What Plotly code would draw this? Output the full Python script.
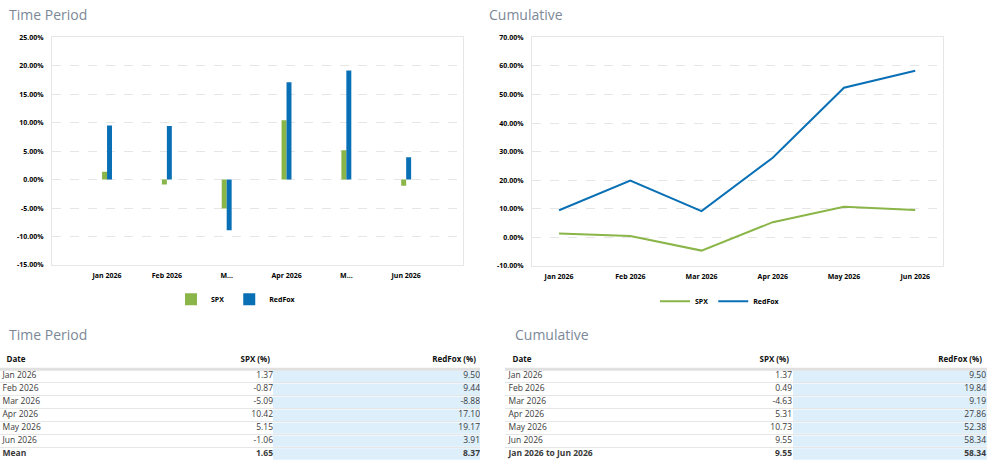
import plotly.graph_objects as go

W, H = 992, 472

# ---------------- data ----------------
months = ["Jan 2026", "Feb 2026", "Mar 2026", "Apr 2026", "May 2026", "Jun 2026"]
bar_tick_labels = ["Jan 2026", "Feb 2026", "M...", "Apr 2026", "M...", "Jun 2026"]
series_names = ["SPX", "RedFox"]
table_headers = ["Date", "SPX (%)", "RedFox (%)"]

spx_period = [1.37, -0.87, -5.09, 10.42, 5.15, -1.06]
redfox_period = [9.50, 9.44, -8.88, 17.10, 19.17, 3.91]
period_summary_label = "Mean"
spx_period_mean = 1.65
redfox_period_mean = 8.37

spx_cum = [1.37, 0.49, -4.63, 5.31, 10.73, 9.55]
redfox_cum = [9.50, 19.84, 9.19, 27.86, 52.38, 58.34]
cum_summary_label = "Jan 2026 to Jun 2026"
spx_cum_total = 9.55
redfox_cum_total = 58.34

bar_yticks = [25, 20, 15, 10, 5, 0, -5, -10, -15]
line_yticks = [70, 60, 50, 40, 30, 20, 10, 0, -10]

# ---------------- style ----------------
GREEN = "#8ab548"
BLUE = "#0a70b6"
LIGHTBLUE = "#deeffc"
GRID = "#e6e6e6"
TITLE_COLOR = "#7c8897"
FONT = "Open Sans"


def px_x(p):
    return p / W


def px_y(p):
    return 1 - p / H


def pct(v):
    return f"{v:.2f}%"


fig = go.Figure()

# ---------------- bar chart (Time Period) ----------------
bw = 0.083
fig.add_trace(go.Bar(x=months, y=spx_period, name=series_names[0], marker_color=GREEN,
                     width=bw, offset=-bw, xaxis="x", yaxis="y", legend="legend",
                     marker_line_width=0))
fig.add_trace(go.Bar(x=months, y=redfox_period, name=series_names[1], marker_color=BLUE,
                     width=bw, offset=0, xaxis="x", yaxis="y", legend="legend",
                     marker_line_width=0))

# ---------------- line chart (Cumulative) ----------------
fig.add_trace(go.Scatter(x=months, y=spx_cum, name=series_names[0], mode="lines",
                         line=dict(color=GREEN, width=2), xaxis="x2", yaxis="y2",
                         legend="legend2"))
fig.add_trace(go.Scatter(x=months, y=redfox_cum, name=series_names[1], mode="lines",
                         line=dict(color=BLUE, width=2), xaxis="x2", yaxis="y2",
                         legend="legend2"))

# ---------------- tables (drawn on hidden cartesian axes) ----------------
HEADER_ROW = -1.29


def add_table(xa, ya, sumlabel, spx, rf, spx_s, rf_s, geo):
    n = len(months) + 1
    rows = list(range(n))
    dates = months + [f"<b>{sumlabel}</b>"]
    c1 = [f"{v:.2f}" for v in spx] + [f"<b>{spx_s:.2f}</b>"]
    c2 = [f"{v:.2f}" for v in rf] + [f"<b>{rf_s:.2f}</b>"]
    cellfont = dict(family=FONT, size=8.5, color="#3a3a3a")
    common = dict(xaxis=xa, yaxis=ya, showlegend=False, hoverinfo="skip")
    # shaded RedFox column
    fig.add_trace(go.Bar(orientation="h", y=rows, x=[geo["end"] - geo["blue"]] * n,
                         base=geo["blue"], width=0.88, marker_color=LIGHTBLUE,
                         marker_line_width=0, **common))
    fig.add_trace(go.Scatter(x=[geo["date"]] * n, y=rows, text=dates, mode="text",
                             textposition="middle right", textfont=cellfont, **common))
    fig.add_trace(go.Scatter(x=[geo["spx"]] * n, y=rows, text=c1, mode="text",
                             textposition="middle left", textfont=cellfont, **common))
    fig.add_trace(go.Scatter(x=[geo["rf"]] * n, y=rows, text=c2, mode="text",
                             textposition="middle left", textfont=cellfont, **common))
    hfont = dict(family=FONT, size=8, color="#111111")
    hx = [geo["hdate"], geo["hspx"], geo["hrf"]]
    hpos = ["middle right", "middle left", "middle left"]
    for x, t, p in zip(hx, table_headers, hpos):
        fig.add_trace(go.Scatter(x=[x], y=[HEADER_ROW], text=[f"<b>{t}</b>"], mode="text",
                                 textposition=p, textfont=hfont, **common))


geo_left = dict(date=2.5, spx=273, blue=273, end=480, rf=480, hdate=6.5, hspx=270, hrf=476)
geo_right = dict(date=3.5, spx=287, blue=288, end=482, rf=481, hdate=7.5, hspx=284, hrf=477)

add_table("x3", "y3", period_summary_label, spx_period, redfox_period,
          spx_period_mean, redfox_period_mean, geo_left)
add_table("x4", "y4", cum_summary_label, spx_cum, redfox_cum,
          spx_cum_total, redfox_cum_total, geo_right)

tickfont = dict(family=FONT, size=7, color="#000000", weight="bold")

axis_common = dict(showline=True, mirror=True, linecolor=GRID, linewidth=1,
                   showgrid=False, zeroline=False, ticks="", tickfont=tickfont)
yaxis_common = {**axis_common, "showgrid": True, "gridcolor": GRID, "griddash": "dash"}

n_rows = len(months) + 1
sep_vals = [i + 0.5 for i in range(n_rows - 1)]
table_y = dict(range=[n_rows - 0.45, -1.9], showticklabels=False, tickvals=sep_vals,
               showgrid=True, gridcolor="#e6e6e6", gridwidth=1, zeroline=False,
               showline=False, ticks="", fixedrange=True)
table_x_hidden = dict(showgrid=False, zeroline=False, showline=False,
                      showticklabels=False, ticks="", fixedrange=True)

TOP = 33
TB0, TB1 = 353.5, 465

fig.update_layout(
    width=W, height=H,
    margin=dict(l=0, r=0, t=0, b=0),
    paper_bgcolor="white", plot_bgcolor="white",
    barmode="overlay",
    font=dict(family=FONT),
    xaxis=dict(domain=[px_x(52), px_x(463)], anchor="y", type="category",
               range=[-0.92, 5.95], tickvals=months, ticktext=bar_tick_labels,
               ticklabelstandoff=4, **axis_common),
    yaxis=dict(domain=[px_y(265), px_y(TOP)], anchor="x", range=[-15, 25],
               tickvals=bar_yticks, ticktext=[pct(v) for v in bar_yticks],
               ticklabelstandoff=6, **yaxis_common),
    xaxis2=dict(domain=[px_x(532), px_x(943)], anchor="y2", type="category",
                range=[-0.38, 5.39], ticklabelstandoff=4, **axis_common),
    yaxis2=dict(domain=[px_y(266), px_y(TOP)], anchor="x2", range=[-10, 70],
                tickvals=line_yticks, ticktext=[pct(v) for v in line_yticks],
                ticklabelstandoff=6, **yaxis_common),
    xaxis3=dict(domain=[px_x(0), px_x(480)], anchor="y3", range=[0, 480], **table_x_hidden),
    yaxis3=dict(domain=[px_y(TB1), px_y(TB0)], anchor="x3", **table_y),
    xaxis4=dict(domain=[px_x(505), px_x(987)], anchor="y4", range=[0, 482], **table_x_hidden),
    yaxis4=dict(domain=[px_y(TB1), px_y(TB0)], anchor="x4", **table_y),
    legend=dict(orientation="h", x=px_x(236), xanchor="center", y=px_y(300), yanchor="middle",
                font=dict(family=FONT, size=7, color="#000000", weight="bold"),
                bgcolor="rgba(0,0,0,0)", itemwidth=30),
    legend2=dict(orientation="h", x=px_x(720), xanchor="center", y=px_y(302), yanchor="middle",
                 font=dict(family=FONT, size=7, color="#000000", weight="bold"),
                 bgcolor="rgba(0,0,0,0)", itemwidth=30),
    showlegend=True,
)

# header underline bands
for xr, yr in [("x3 domain", "y3"), ("x4 domain", "y4")]:
    fig.add_shape(type="line", xref=xr, yref=yr, x0=0, x1=1, y0=-0.55, y1=-0.55,
                  line=dict(color="#e0e0e0", width=3), layer="above")

titles = [("Time Period", 7, 10), ("Cumulative", 487, 10),
          ("Time Period", 7, 336), ("Cumulative", 513, 336)]
for text, x, y in titles:
    fig.add_annotation(text=text, x=px_x(x), y=px_y(y), xref="paper", yref="paper",
                       xanchor="left", yanchor="middle", showarrow=False,
                       font=dict(family=FONT, size=14, color=TITLE_COLOR))

fig.write_html("out.html")
